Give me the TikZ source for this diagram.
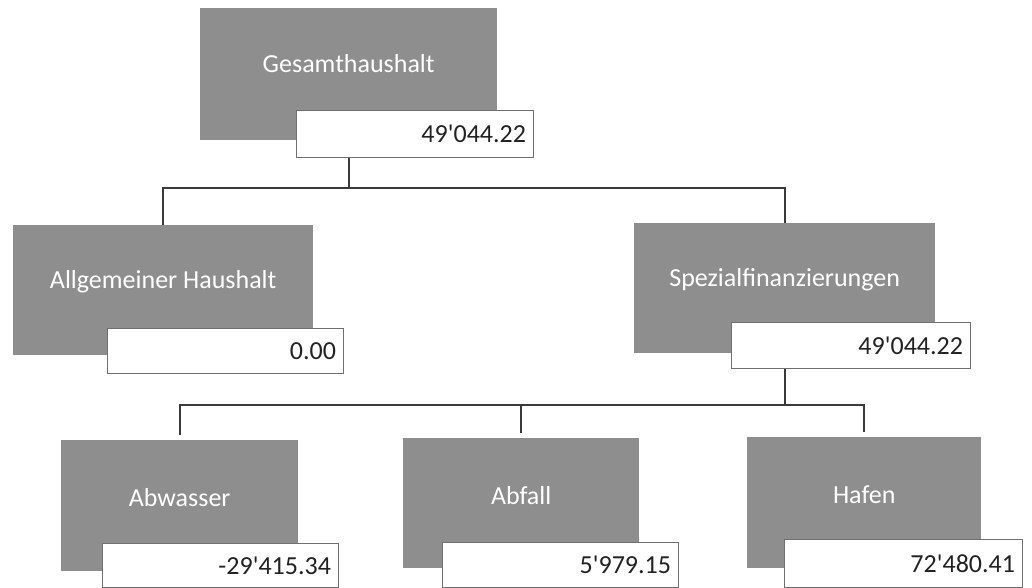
\documentclass[tikz,border=0pt]{standalone}
\usepackage{fontspec}
\setmainfont{Carlito}
\definecolor{boxgray}{HTML}{8E8E8E}
\definecolor{edgegray}{HTML}{707070}
\definecolor{linecol}{HTML}{3A3A3A}
\definecolor{numcol}{HTML}{222222}
\begin{document}
\begin{tikzpicture}[x=1pt,y=-1pt,
  gbox/.style={fill=boxgray, anchor=north west, inner sep=0pt},
  vbox/.style={draw=edgegray, line width=1.2pt, fill=white, anchor=north west, inner sep=0pt},
  lbl/.style={text=white, inner sep=0pt, font=\fontsize{26}{30}\selectfont},
  num/.style={text=numcol, inner sep=0pt, anchor=east, font=\fontsize{26}{30}\selectfont},
  conn/.style={draw=linecol, line width=2pt}]
\useasboundingbox (0,0) rectangle (1032,588);
\coordinate (h1) at (0,188);
\coordinate (h2) at (0,405);
% boxes
\node[gbox, minimum width=297pt, minimum height=132pt] (g1) at (200,8) {};
\node[vbox, minimum width=237pt, minimum height=47pt] (v1) at (296,110) {};
\node[gbox, minimum width=300pt, minimum height=130pt] (g2) at (13,225) {};
\node[vbox, minimum width=236pt, minimum height=45pt] (v2) at (107,328) {};
\node[gbox, minimum width=301pt, minimum height=130pt] (g3) at (634,223) {};
\node[vbox, minimum width=239pt, minimum height=46pt] (v3) at (731,322) {};
\node[gbox, minimum width=237pt, minimum height=131pt] (g4) at (61,440) {};
\node[vbox, minimum width=236pt, minimum height=44pt] (v4) at (102,543) {};
\node[gbox, minimum width=236pt, minimum height=130pt] (g5) at (403,438) {};
\node[vbox, minimum width=236pt, minimum height=45pt] (v5) at (442,542) {};
\node[gbox, minimum width=234pt, minimum height=131pt] (g6) at (747,437) {};
\node[vbox, minimum width=238pt, minimum height=48pt] (v6) at (784,539) {};
% labels
\node[lbl] (t1) at ([yshift=11pt]g1.center) {Gesamthaushalt};
\node[lbl] (t2) at ([yshift=8pt]g2.center) {Allgemeiner Haushalt};
\node[lbl] (t3) at ([yshift=8pt]g3.center) {Spezialfinanzierungen};
\node[lbl] (t4) at ([yshift=8pt]g4.center) {Abwasser};
\node[lbl] (t5) at ([yshift=8pt]g5.center) {Abfall};
\node[lbl] (t6) at ([yshift=8pt]g6.center) {Hafen};
% values
\node[num] (n1) at ([xshift=-8pt]v1.east) {49\textquotesingle044.22};
\node[num] (n2) at ([xshift=-8pt]v2.east) {0.00};
\node[num] (n3) at ([xshift=-8pt]v3.east) {49\textquotesingle044.22};
\node[num] (n4) at ([xshift=-8pt]v4.east) {-29\textquotesingle415.34};
\node[num] (n5) at ([xshift=-8pt]v5.east) {5\textquotesingle979.15};
\node[num] (n6) at ([xshift=-8pt]v6.east) {72\textquotesingle480.41};
% connectors
\draw[conn] (g1.center |- v1.south) -- (g1.center |- h1) -| (g2.north);
\draw[conn] (g1.center |- h1) -| (g3.north);
\draw[conn] (g3.center |- v3.south) -- (g3.center |- h2) -| ([yshift=5pt]g4.north);
\draw[conn] (g3.center |- h2) -| ([yshift=5pt]g6.north);
\draw[conn] (g5.north |- h2) -- ([yshift=5pt]g5.north);
\end{tikzpicture}
\end{document}
